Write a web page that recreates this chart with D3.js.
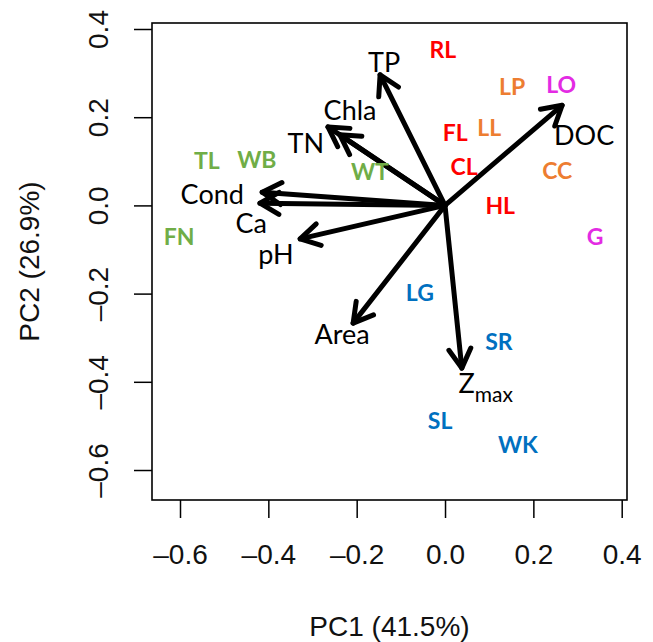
<!DOCTYPE html>
<html><head><meta charset="utf-8">
<script src="https://cdn.jsdelivr.net/npm/d3@7"></script>
<style>body{margin:0;background:#fff}</style>
</head><body><svg id="c" width="653" height="642"></svg>
<script>
// ---- data ----
const xTicks = [-0.6, -0.4, -0.2, 0.0, 0.2, 0.4];
const yTicks = [-0.6, -0.4, -0.2, 0.0, 0.2, 0.4];
const xTitle = "PC1 (41.5%)";
const yTitle = "PC2 (26.9%)";

// variable loadings (arrow tips)
const vars   = ["TP", "TN", "Chla", "Cond", "Ca", "pH", "Area", "Zmax", "DOC"];
const varX   = [-0.147, -0.265, -0.238, -0.414, -0.419, -0.328, -0.208, 0.038, 0.265];
const varY   = [ 0.296,  0.178,  0.160,  0.030,  0.005, -0.076, -0.267, -0.369, 0.227];
// variable label positions
const varLabX = [-0.138, -0.315, -0.215, -0.527, -0.439, -0.383, -0.233, 0.092, 0.315];
const varLabY = [ 0.324,  0.141,  0.216,  0.026, -0.040, -0.110, -0.292, -0.403, 0.160];

// site scores
const sites  = ["RL","LP","LO","FL","LL","CL","CC","HL","G","TL","WB","WT","FN","LG","SR","SL","WK"];
const siteX  = [-0.005, 0.152, 0.263, 0.023, 0.100, 0.043, 0.254, 0.125, 0.340, -0.539, -0.426, -0.170, -0.602, -0.057, 0.122, -0.011, 0.165];
const siteY  = [ 0.352, 0.268, 0.273, 0.164, 0.176, 0.087, 0.078, -0.001, -0.072, 0.101, 0.103, 0.076, -0.072, -0.199, -0.308, -0.489, -0.543];
const siteGroup = ["red","orange","magenta","red","orange","red","orange","red","magenta","green","green","green","green","blue","blue","blue","blue"];
const groupNames  = ["red","orange","magenta","green","blue"];
const groupColors = ["#FF0000","#ED7D31","#E32BE3","#70AD47","#0070C0"];

// ---- chart ----
const svg = d3.select("#c");
const L = 152, R = 627, T = 23, B = 500;
const x = d3.scaleLinear().domain([-0.6634, 0.412]).range([L, R]);
const y = d3.scaleLinear().domain([-0.668, 0.4136]).range([B, T]);
const color = d3.scaleOrdinal().domain(groupNames).range(groupColors);
const fmt = d => (d < 0 ? "\u2013" : "") + Math.abs(d).toFixed(1);

// x axis
const gx = svg.append("g").attr("transform", `translate(0,${B})`)
  .call(d3.axisBottom(x).tickValues(xTicks).tickSize(18).tickFormat(fmt));
gx.select(".domain").remove();
gx.selectAll("line").attr("stroke", "#000").attr("stroke-width", 1.5);
gx.selectAll("text").attr("y", 64).attr("dy", 0)
  .attr("font-family", "Liberation Sans, Arial, sans-serif").attr("font-size", 28).attr("fill", "#111");

// y axis
const gy = svg.append("g").attr("transform", `translate(${L},0)`)
  .call(d3.axisLeft(y).tickValues(yTicks).tickSize(18).tickFormat(fmt));
gy.select(".domain").remove();
gy.selectAll("line").attr("stroke", "#000").attr("stroke-width", 1.5);
gy.selectAll("text").attr("x", 0).attr("y", 0).attr("dy", 0)
  .attr("text-anchor", "middle")
  .attr("transform", `translate(${108 - L},0) rotate(-90)`)
  .attr("font-family", "Liberation Sans, Arial, sans-serif").attr("font-size", 28).attr("fill", "#111");

// frame
svg.append("rect").attr("x", L).attr("y", T).attr("width", R - L).attr("height", B - T)
  .attr("fill", "none").attr("stroke", "#000").attr("stroke-width", 1.6);

// titles
svg.append("text").attr("x", (L + R) / 2).attr("y", 636).attr("text-anchor", "middle")
  .attr("font-family", "Liberation Sans, Arial, sans-serif").attr("font-size", 28).attr("fill", "#111").text(xTitle);
svg.append("text").attr("transform", `translate(39,${(T + B) / 2}) rotate(-90)`).attr("text-anchor", "middle")
  .attr("font-family", "Liberation Sans, Arial, sans-serif").attr("font-size", 28).attr("fill", "#111").text(yTitle);

// arrows
const ox = x(0), oy = y(0);
const head = 22, ang = Math.PI / 6;
const ag = svg.append("g").attr("stroke", "#000").attr("stroke-width", 5)
  .attr("fill", "none").attr("stroke-linecap", "round").attr("stroke-linejoin", "round");
vars.forEach((v, i) => {
  const tx = x(varX[i]), ty = y(varY[i]);
  const a = Math.atan2(ty - oy, tx - ox);
  ag.append("line").attr("x1", ox).attr("y1", oy).attr("x2", tx).attr("y2", ty);
  const b1 = [tx - head * Math.cos(a - ang), ty - head * Math.sin(a - ang)];
  const b2 = [tx - head * Math.cos(a + ang), ty - head * Math.sin(a + ang)];
  ag.append("path").attr("d", `M${b1[0]},${b1[1]}L${tx},${ty}L${b2[0]},${b2[1]}`);
});

// variable labels
vars.forEach((v, i) => {
  const t = svg.append("text").attr("x", x(varLabX[i])).attr("y", y(varLabY[i]))
    .attr("dy", "0.36em").attr("text-anchor", "middle")
    .attr("font-family", "Lato, sans-serif").attr("font-size", 27).attr("fill", "#000");
  if (v === "Zmax") {
    t.append("tspan").text("Z");
    t.append("tspan").attr("font-size", 21).attr("dy", 9).text("max");
  } else {
    t.text(v);
  }
});

// site labels
svg.append("g").selectAll("text").data(sites).join("text")
  .attr("x", (d, i) => x(siteX[i])).attr("y", (d, i) => y(siteY[i]))
  .attr("dy", "0.36em").attr("text-anchor", "middle")
  .attr("font-family", "Lato, sans-serif").attr("font-weight", "bold").attr("font-size", 23)
  .attr("fill", (d, i) => color(siteGroup[i]))
  .text(d => d);
</script></body></html>
